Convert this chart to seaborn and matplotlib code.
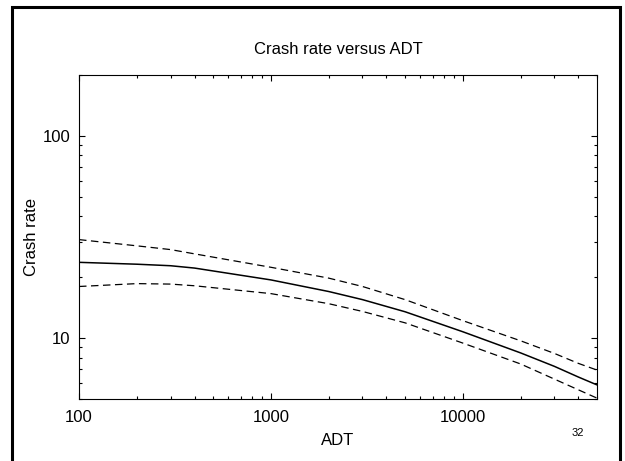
import pandas as pd
import matplotlib
matplotlib.use('Agg')
import matplotlib.pyplot as plt
import matplotlib.ticker as mticker
from matplotlib.patches import Rectangle
import seaborn as sns

sns.set_style('ticks')
plt.rcParams['font.family'] = ['Liberation Sans', 'DejaVu Sans']
plt.rcParams['text.color'] = 'black'
plt.rcParams['axes.labelcolor'] = 'black'
plt.rcParams['xtick.color'] = 'black'
plt.rcParams['ytick.color'] = 'black'

# values
adt = [100, 200, 300, 400, 1000, 2000, 3000, 5000, 10000, 20000, 30000, 40000, 50000]
rate_fit = [23.7, 23.2, 22.8, 22.2, 19.4, 17.0, 15.5, 13.5, 10.75, 8.45, 7.25, 6.42, 5.87]
rate_upper = [30.7, 28.6, 27.4, 26.1, 22.4, 19.8, 18.0, 15.5, 12.2, 9.7, 8.4, 7.5, 6.95]
rate_lower = [18.0, 18.6, 18.5, 18.15, 16.6, 14.8, 13.55, 11.9, 9.45, 7.45, 6.27, 5.55, 5.05]

x_ticks = [100, 1000, 10000]
y_ticks = [10, 100]

fig = plt.figure(figsize=(6.25, 4.61), dpi=100)
ax = fig.add_axes([79 / 625, 1 - 399 / 461, 518 / 625, 324 / 461])

sns.lineplot(x=adt, y=rate_fit, ax=ax, color='black', linewidth=1.1)
sns.lineplot(x=adt, y=rate_upper, ax=ax, color='black', linewidth=0.9)
ax.lines[-1].set_dashes((6, 3.6))
sns.lineplot(x=adt, y=rate_lower, ax=ax, color='black', linewidth=0.9)
ax.lines[-1].set_dashes((6, 3.6))

ax.set_xscale('log')
ax.set_yscale('log')
ax.set_xlim(100, 50000)
ax.set_ylim(5, 200)

fmt = mticker.FuncFormatter(lambda v, p: f'{v:g}')
ax.xaxis.set_major_locator(mticker.FixedLocator(x_ticks))
ax.yaxis.set_major_locator(mticker.FixedLocator(y_ticks))
ax.xaxis.set_major_formatter(fmt)
ax.yaxis.set_major_formatter(fmt)
ax.xaxis.set_minor_locator(mticker.LogLocator(base=10, subs=range(2, 10)))
ax.yaxis.set_minor_locator(mticker.LogLocator(base=10, subs=range(2, 10)))
ax.xaxis.set_minor_formatter(mticker.NullFormatter())
ax.yaxis.set_minor_formatter(mticker.NullFormatter())

ax.tick_params(which='both', direction='in', top=True, right=True, width=0.8, color='black')
ax.tick_params(which='major', length=4.5, labelsize=12)
ax.tick_params(which='minor', length=2.3)
ax.tick_params(axis='x', which='major', pad=8)
ax.tick_params(axis='y', which='major', pad=6)
for s in ax.spines.values():
    s.set_linewidth(0.8)
    s.set_color('black')

ax.set_title('Crash rate versus ADT', fontsize=12, pad=15, color='black')
ax.set_xlabel('ADT', fontsize=12, labelpad=6)
ax.set_ylabel('Crash rate', fontsize=12, labelpad=3)
fig.text(578 / 625, 1 - 433 / 461, '32', fontsize=8, ha='center', va='center')

# slide frame
fig.patches.append(Rectangle((11.5 / 625, -0.1), 608.5 / 625, 1.1 - 7.5 / 461,
                             transform=fig.transFigure, fill=False,
                             edgecolor='black', linewidth=2.2))

fig.savefig('out.png', dpi=100)
